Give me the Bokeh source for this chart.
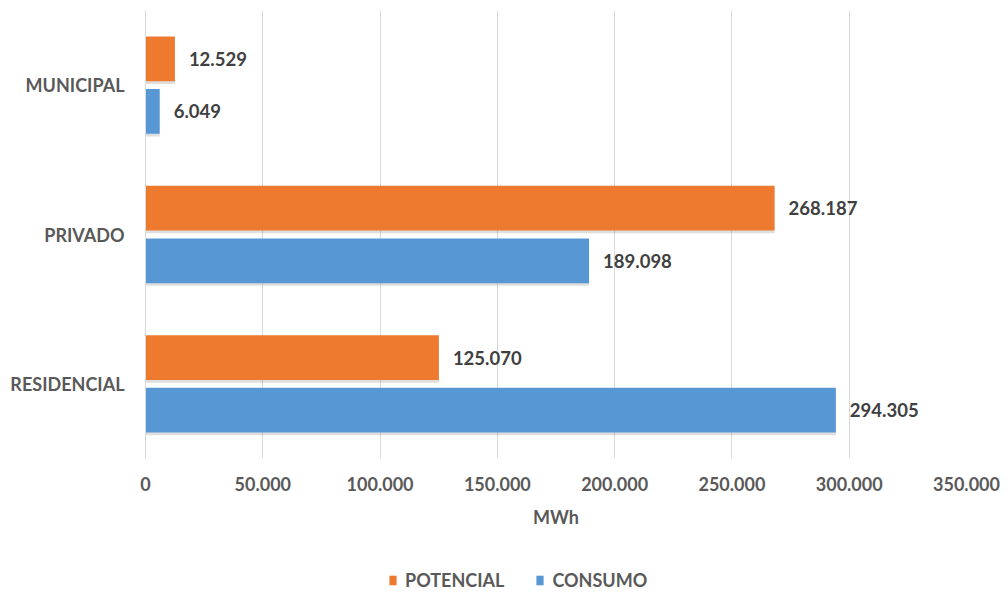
from bokeh.plotting import figure
from bokeh.layouts import column
from bokeh.models import (ColumnDataSource, Range1d, FactorRange, FixedTicker,
                          CustomJSTickFormatter, Legend, LegendItem)
from bokeh.transform import dodge
from bokeh.core.properties import value
from bokeh.embed import file_html
from bokeh.resources import INLINE

# ---- data ----
categories = ["RESIDENCIAL", "PRIVADO", "MUNICIPAL"]
potencial = [125070, 268187, 12529]
consumo = [294305, 189098, 6049]
series_names = ["POTENCIAL", "CONSUMO"]
x_ticks = [0, 50000, 100000, 150000, 200000, 250000, 300000, 350000]
x_label = "MWh"

ORANGE = "#EE7A30"
BLUE = "#5797D3"
FONT = "Lato"


def fmt(v):
    return f"{v:,}".replace(",", ".")


src = ColumnDataSource(dict(
    cat=categories,
    pot=potencial,
    con=consumo,
    pot_lbl=[fmt(v) for v in potencial],
    con_lbl=[fmt(v) for v in consumo],
))

p = figure(frame_width=821, frame_height=448,
           y_range=FactorRange(factors=categories),
           x_range=Range1d(0, 350000),
           output_backend="svg", toolbar_location=None,
           min_border_left=145, min_border_right=42,
           min_border_top=10, min_border_bottom=80)
p.outline_line_color = None
p.background_fill_color = "white"

OFF = 0.176
H = 0.30
SH = 0.018

# subtle shadows
p.hbar(y=dodge("cat", OFF - SH, range=p.y_range), right="pot", left=0, height=H,
       source=src, fill_color="#7a7a7a", fill_alpha=0.25, line_color=None)
p.hbar(y=dodge("cat", -OFF - SH, range=p.y_range), right="con", left=0, height=H,
       source=src, fill_color="#7a7a7a", fill_alpha=0.25, line_color=None)

r_pot = p.hbar(y=dodge("cat", OFF, range=p.y_range), right="pot", left=0, height=H,
               source=src, fill_color=ORANGE, line_color=None)
r_con = p.hbar(y=dodge("cat", -OFF, range=p.y_range), right="con", left=0, height=H,
               source=src, fill_color=BLUE, line_color=None)

for col, lbl, off in (("pot", "pot_lbl", OFF), ("con", "con_lbl", -OFF)):
    p.text(x=col, y=dodge("cat", off, range=p.y_range), text=lbl, source=src,
           x_offset=14, text_baseline="middle", text_align="left",
           text_font=value(FONT), text_font_style="bold",
           text_font_size="18.5px", text_color="#404040")

# axes
p.xaxis.ticker = FixedTicker(ticks=x_ticks)
p.xaxis.formatter = CustomJSTickFormatter(
    code=r"return tick.toFixed(0).replace(/\B(?=(\d{3})+(?!\d))/g, '.');")
p.xaxis.axis_line_color = None
p.xaxis.major_tick_line_color = None
p.xaxis.minor_tick_line_color = None
p.xaxis.major_tick_out = 0
p.xaxis.major_tick_in = 0
p.xaxis.major_label_standoff = 18
p.xaxis.major_label_text_font = FONT
p.xaxis.major_label_text_font_style = "bold"
p.xaxis.major_label_text_font_size = "18px"
p.xaxis.major_label_text_color = "#595959"
p.xaxis.axis_label = x_label
p.xaxis.axis_label_standoff = 12
p.xaxis.axis_label_text_font = FONT
p.xaxis.axis_label_text_font_style = "bold"
p.xaxis.axis_label_text_font_size = "18px"
p.xaxis.axis_label_text_color = "#595959"

p.yaxis.axis_line_color = "#d9d9d9"
p.yaxis.major_tick_line_color = None
p.yaxis.minor_tick_line_color = None
p.yaxis.major_tick_out = 0
p.yaxis.major_label_standoff = 21
p.yaxis.major_label_text_font = FONT
p.yaxis.major_label_text_font_style = "bold"
p.yaxis.major_label_text_font_size = "18px"
p.yaxis.major_label_text_color = "#595959"

p.xgrid.grid_line_color = "#d9d9d9"
p.ygrid.grid_line_color = None

# ---- legend strip: small figure whose bars have zero height (only legend swatches show) ----
leg_fig = figure(width=1008, height=54, output_backend="svg", toolbar_location=None,
                 y_range=FactorRange(factors=categories), x_range=Range1d(0, 350000),
                 min_border=0, x_axis_type=None, y_axis_type=None)
leg_fig.outline_line_color = None
leg_fig.grid.visible = False
lr_pot = leg_fig.hbar(y="cat", right="pot", left=0, height=0, source=src,
                      fill_color=ORANGE, line_color=None)
lr_con = leg_fig.hbar(y="cat", right="con", left=0, height=0, source=src,
                      fill_color=BLUE, line_color=None)

legend = Legend(items=[LegendItem(label=series_names[0], renderers=[lr_pot]),
                       LegendItem(label=series_names[1], renderers=[lr_con])],
                orientation="horizontal", location=(243, 1),
                glyph_width=9, glyph_height=12, label_standoff=8, spacing=31,
                label_text_font=FONT, label_text_font_style="bold",
                label_text_font_size="18px", label_text_color="#595959",
                border_line_color=None, background_fill_alpha=0,
                margin=0, padding=2)
leg_fig.add_layout(legend)

layout = column(p, leg_fig, spacing=0)
open("out.html", "w").write(file_html(layout, INLINE))
